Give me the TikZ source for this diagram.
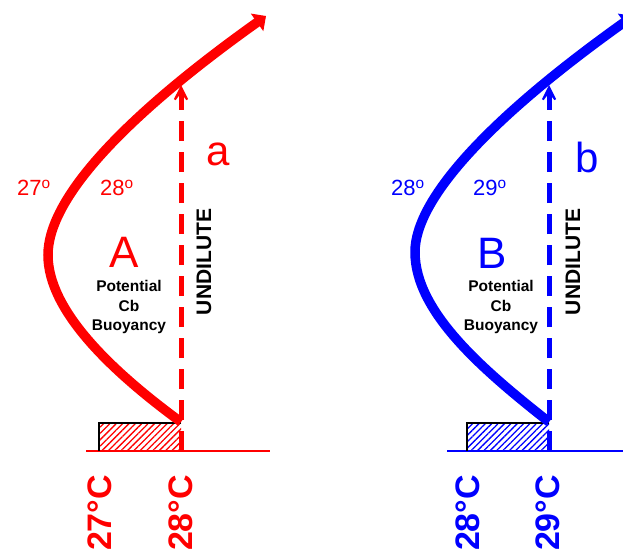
\documentclass[tikz,border=0pt]{standalone}
\usepackage{fontspec}
\setmainfont{Liberation Sans}
\usepackage{tikz}
\usetikzlibrary{arrows.meta,patterns.meta}

\begin{document}
\begin{tikzpicture}[x=1pt,y=-1pt,
  parcel/.style={line width=9.5pt,-{Triangle[length=11pt,width=21pt]}},
  undilute/.style={line width=5pt,dash pattern=on 20pt off 11pt,
    -{Stealth[length=24pt,width=24pt,inset=16pt]}},
  ground/.style={line width=2.5pt},
  deg/.style={font=\fontsize{22}{22}\selectfont},
  big/.style={font=\fontsize{44}{44}\selectfont},
  small/.style={font=\fontsize{42}{42}\selectfont},
  cape/.style={align=center,font=\bfseries\fontsize{15.5}{19.5}\selectfont},
  vert/.style={rotate=90,font=\bfseries\fontsize{21}{21}\selectfont},
  sst/.style={rotate=90,font=\bfseries\fontsize{34}{34}\selectfont}]
\useasboundingbox (0,0) rectangle (623,559);
\clip (0,0) rectangle (623,559);

% left panel, red
\draw[red,ground] (86,451) -- (270,451);
\fill[pattern={Lines[angle=45,distance=4.5pt,line width=1.3pt]},pattern color=red]
  (99,423) rectangle (181,451);
\draw[line width=2pt] (99,451) -- (99,423) -- (181,423);
\coordinate (base a) at (181,451);
\coordinate (tip a) at (181,85);
\draw[red,undilute] (base a) -- (tip a);
\draw[red,parcel] (181,422) .. controls (110,370) and (48,310) .. (48,255)
  .. controls (48,200) and (120,120) .. (266,16);
\node[red,deg] (t27) at (34,188) {27\textsuperscript{o}};
\node[red,deg] (t28) at (117,188) {28\textsuperscript{o}};
\node[red,small,anchor=base] (lbl a) at (218,165) {a};
\node[red,big] (lbl A) at (124,252) {A};
\node[cape] (cb a) at (129,307) {Potential\\Cb\\Buoyancy};
\node[vert] (und a) at (204,262) {UNDILUTE};
\node[red,sst] (sst27) at (100,513) {27°C};
\node[red,sst] (sst28a) at (181,513) {28°C};

% right panel, blue
\draw[blue,ground] (447,451) -- (623,451);
\fill[pattern={Lines[angle=45,distance=4.5pt,line width=1.3pt]},pattern color=blue]
  (467,423) rectangle (549,451);
\draw[line width=2pt] (467,451) -- (467,423) -- (549,423);
\coordinate (base b) at (549,451);
\coordinate (tip b) at (549,85);
\draw[blue,undilute] (base b) -- (tip b);
\draw[blue,parcel] (549,422) .. controls (483,370) and (415,312) .. (415,252)
  .. controls (415,200) and (487,120) .. (633,16);
\node[blue,deg] (t28b) at (408,188) {28\textsuperscript{o}};
\node[blue,deg] (t29) at (490,188) {29\textsuperscript{o}};
\node[blue,small,anchor=base] (lbl b) at (587,172) {b};
\node[blue,big] (lbl B) at (492,253) {B};
\node[cape] (cb b) at (501,307) {Potential\\Cb\\Buoyancy};
\node[vert] (und b) at (573,262) {UNDILUTE};
\node[blue,sst] (sst28b) at (468,513) {28°C};
\node[blue,sst] (sst29) at (548,513) {29°C};
\end{tikzpicture}
\end{document}
